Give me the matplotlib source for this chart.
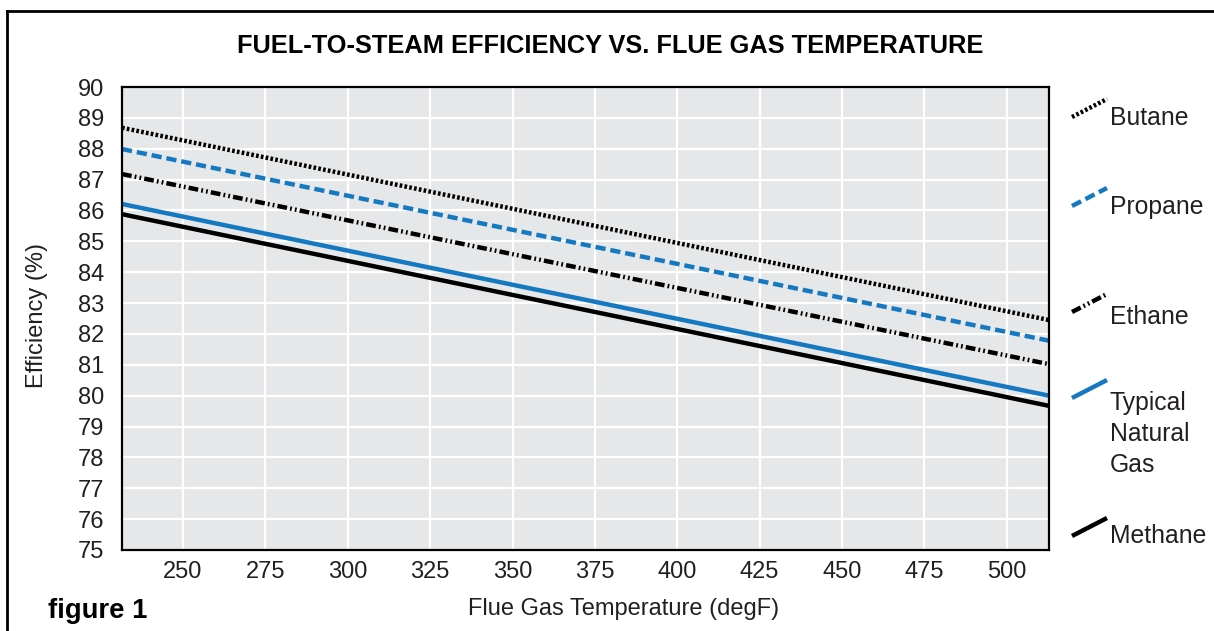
import matplotlib
matplotlib.use('Agg')
import matplotlib.pyplot as plt
from matplotlib.lines import Line2D

plt.rcParams['font.family'] = ['Liberation Sans', 'DejaVu Sans']

# data (straight lines, end points)
temps = [231.5, 512.8]
butane = [88.68, 82.45]
propane = [87.99, 81.78]
ethane = [87.18, 81.02]
natural_gas = [86.21, 80.00]
methane = [85.88, 79.67]

names = ['Butane', 'Propane', 'Ethane', 'Typical\nNatural\nGas', 'Methane']
x_ticks = [250, 275, 300, 325, 350, 375, 400, 425, 450, 475, 500]
y_ticks = list(range(75, 91))

blue = '#1479c1'
ink = '#231f20'
styles = [
    dict(color='black', dashes=(0.6, 0.5)),
    dict(color=blue, dashes=(2.3, 1.1)),
    dict(color='black', dashes=(2.2, 0.7, 0.4, 0.7, 0.4, 0.7)),
    dict(color=blue),
    dict(color='black'),
]
series = [butane, propane, ethane, natural_gas, methane]

W, H = 1214, 631
fig = plt.figure(figsize=(W / 100, H / 100), dpi=100)
ax = fig.add_axes([122 / W, 1 - 550 / H, (1049 - 122) / W, (550 - 87) / H])
ax.set_facecolor('#e6e7e8')

for vals, st in zip(series, styles):
    ax.plot(temps, vals, lw=3.2, solid_capstyle='butt', **st)

ax.set_xlim(temps[0], temps[1])
ax.set_ylim(75, 90)
ax.set_xticks(x_ticks)
ax.set_yticks(y_ticks)
ax.grid(True, color='white', lw=1.6)
ax.set_axisbelow(True)
ax.tick_params(length=0, labelsize=17, colors=ink)
ax.tick_params(axis='y', pad=13)
ax.tick_params(axis='x', pad=8)
for sp in ax.spines.values():
    sp.set_linewidth(1.6)
    sp.set_color('black')
ax.set_xlabel('Flue Gas Temperature (degF)', fontsize=17, color=ink)
ax.xaxis.set_label_coords((624 - 122) / 927, -(598 - 550) / 463)
ax.set_ylabel('Efficiency (%)', fontsize=17, color=ink)
ax.yaxis.set_label_coords(-(122 - 48) / 927, (550 - 316) / 463)

fig.text(610 / W, 1 - 46 / H, 'FUEL-TO-STEAM EFFICIENCY VS. FLUE GAS TEMPERATURE',
         ha='center', va='center', fontsize=18.3, fontweight='bold')
fig.text(48 / W, 1 - 611 / H, 'figure 1', ha='left', va='center', fontsize=19.8,
         fontweight='bold')

# outer frame (top and left edges)
fig.add_artist(Line2D([7 / W, 1], [1 - 11 / H, 1 - 11 / H], transform=fig.transFigure,
                      color='black', lw=2))
fig.add_artist(Line2D([7 / W, 7 / W], [0, 1 - 11 / H], transform=fig.transFigure,
                      color='black', lw=2))

# hand-placed legend on the right
key_y = [108, 197, 303, 389, 527]
text_y = [118, 207, 317, 434, 536]
for name, st, ky, ty in zip(names, styles, key_y, text_y):
    fig.add_artist(Line2D([1072 / W, 1107 / W], [1 - (ky + 9) / H, 1 - (ky - 9) / H],
                          transform=fig.transFigure, lw=3.2, solid_capstyle='butt', **st))
    fig.text(1110 / W, 1 - ty / H, name, ha='left', va='center', fontsize=17.8,
             color=ink, linespacing=1.36)

fig.savefig('out.png', dpi=100)
